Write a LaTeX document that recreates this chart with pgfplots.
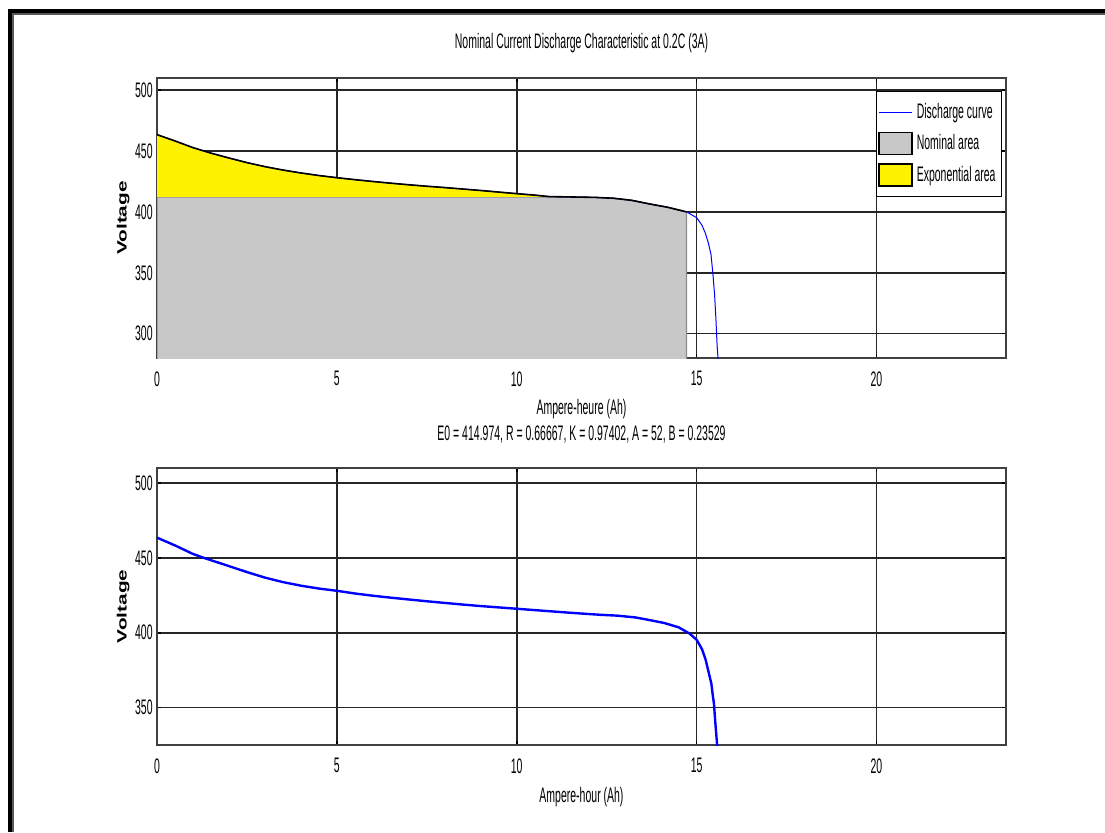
\documentclass[border=0pt]{standalone}
\usepackage{graphicx}
\usepackage{pgfplots}
\pgfplotsset{compat=1.18}
\usepackage{pgfplotstable}
\usepackage{fontspec}
\setmainfont{Liberation Sans}
\newfontfamily\nf[FakeStretch=0.5]{Liberation Sans}
\newcommand\tf{\nf\fontsize{10.5pt}{12pt}\selectfont}
\definecolor{areagray}{RGB}{200,200,200}
\definecolor{curveblue}{RGB}{0,0,255}

% theoretical curve of the upper panel
\pgfplotstableread{
ah v
0 463.5
0.5 458.3
1 452.8
1.5 448.3
2 444.3
2.5 440.5
3 437.2
3.5 434.4
4 432
4.5 429.9
5 428.1
5.5 426.5
6 425
6.5 423.6
7 422.3
7.5 421.1
8 420
8.5 418.8
9 417.6
9.5 416.3
10 415
10.5 413.8
10.9 412.6
11.5 412.3
12.2 411.9
12.7 411.2
13.2 409.5
13.7 406.5
14.2 403.8
14.72 400
15 395.3
15.15 389
15.25 382
15.33 374
15.4 365
15.45 350
15.5 332
15.54 310
15.57 290
15.6 278
}\upcurve

% exponential zone: curve down to the nominal voltage
\pgfplotstableread{
ah v
0 412.3
0 463.5
0.5 458.3
1 452.8
1.5 448.3
2 444.3
2.5 440.5
3 437.2
3.5 434.4
4 432
4.5 429.9
5 428.1
5.5 426.5
6 425
6.5 423.6
7 422.3
7.5 421.1
8 420
8.5 418.8
9 417.6
9.5 416.3
10 415
10.5 413.8
10.9 412.6
10.9 412.3
}\exparea

% nominal zone
\pgfplotstableread{
ah v
0 260
0 412.3
10.9 412.3
11.5 412.3
12.2 411.9
12.7 411.2
13.2 409.5
13.7 406.5
14.2 403.8
14.72 400
14.72 260
}\nomarea

% simulated discharge, lower panel
\pgfplotstableread{
ah v
0 463.5
0.5 458.3
1 452.6
1.3 450
2 444.5
2.5 440.5
3 436.8
3.5 433.8
4 431.4
4.5 429.5
5 428
5.5 426.2
6 424.7
6.5 423.4
7 422.2
7.5 421
8 419.9
8.5 418.8
9 417.8
9.5 416.9
10 416
10.5 415.1
11 414.2
11.5 413.3
12.3 412
12.8 411.4
13.3 410.2
13.7 408.4
14.1 406.5
14.5 403.6
14.8 399.5
15 395.3
15.15 389
15.25 382
15.35 372
15.41 366
15.45 358
15.48 353
15.52 340
15.57 325
15.6 315
}\lowcurve

\pgfplotsset{mat/.style={scale only axis, width=424.5pt, xmin=0, xmax=23.6,
  xtick={0,5,10,15,20}, grid=major,
  major grid style={black!85, line width=0.8pt},
  axis line style={black!75, line width=0.9pt},
  tick align=inside, major tick length=2pt,
  tick style={black, line width=0.8pt},
  /pgf/number format/assume math mode=true,
  tick label style={font=\tf}, label style={font=\tf}, title style={font=\tf},
  yticklabel style={inner sep=0pt, xshift=-2pt},
  xticklabel style={inner sep=0pt, yshift=-6.5pt},
  ylabel={\scalebox{1}[0.65]{\rmfamily\bfseries\fontsize{10.4pt}{12pt}\selectfont Voltage}},
  ylabel style={at={(axis description cs:-0.04,0.5)}, anchor=center}}}

\begin{document}
\begin{tikzpicture}
\path[use as bounding box] (0,0) rectangle (552.5pt,-416pt);
\draw[black, line width=2pt] (5pt,-416pt) -- (5pt,-5.5pt) -- (552.5pt,-5.5pt);
\draw[black!65, line width=1pt] (6.5pt,-416pt) -- (6.5pt,-7.1pt) -- (552.5pt,-7.1pt);

\begin{axis}[mat, at={(78.5pt,-39pt)}, anchor=north west, height=140pt,
  ymin=280, ymax=510, ytick={300,350,400,450,500},
  title={Nominal Current Discharge Characteristic at 0.2C (3A)},
  title style={at={(axis description cs:0.5,1.082)}, anchor=center},
  xlabel={Ampere-heure (Ah)},
  xlabel style={at={(axis description cs:0.5,-0.182)}, anchor=center},
  legend style={at={(0.847,0.9536)}, anchor=north west, draw=black,
    line width=0.5pt, fill=white, font=\tf, inner xsep=0.8pt, inner ysep=4pt,
    row sep=2.5pt, cells={anchor=west}}, legend cell align=left]
\addplot[fill=areagray, draw=black!45, line width=0.6pt, forget plot]
  table[x=ah, y=v] {\nomarea} -- cycle;
\addplot[fill=yellow, draw=none, forget plot] table[x=ah, y=v] {\exparea} -- cycle;
\addplot[curveblue, line width=0.5pt, forget plot] table[x=ah, y=v] {\upcurve};
\addplot[black, line width=0.8pt, restrict x to domain=0:14.72, forget plot]
  table[x=ah, y=v] {\upcurve};
\addlegendimage{legend image code/.code={\draw[draw=curveblue, line width=0.8pt]
  (0pt,0pt) -- (16.5pt,0pt);}}
\addlegendentry{Discharge curve}
\addlegendimage{legend image code/.code={\draw[fill=areagray, draw=black,
  line width=0.6pt] (0pt,-5.5pt) rectangle (16.5pt,5.5pt);}}
\addlegendentry{Nominal area}
\addlegendimage{legend image code/.code={\draw[fill=yellow, draw=black,
  line width=0.6pt] (0pt,-5.5pt) rectangle (16.5pt,5.5pt);}}
\addlegendentry{Exponential area}
\end{axis}

\begin{axis}[mat, at={(78.5pt,-234pt)}, anchor=north west, height=138.5pt,
  ymin=325, ymax=510, ytick={350,400,450,500},
  title={E0 = 414.974, R = 0.66667, K = 0.97402, A = 52, B = 0.23529},
  title style={at={(axis description cs:0.5,1.079)}, anchor=center},
  xlabel={Ampere-hour (Ah)},
  xlabel style={at={(axis description cs:0.5,-0.188)}, anchor=center}]
\addplot[curveblue, line width=1.2pt] table[x=ah, y=v] {\lowcurve};
\end{axis}
\end{tikzpicture}
\end{document}
